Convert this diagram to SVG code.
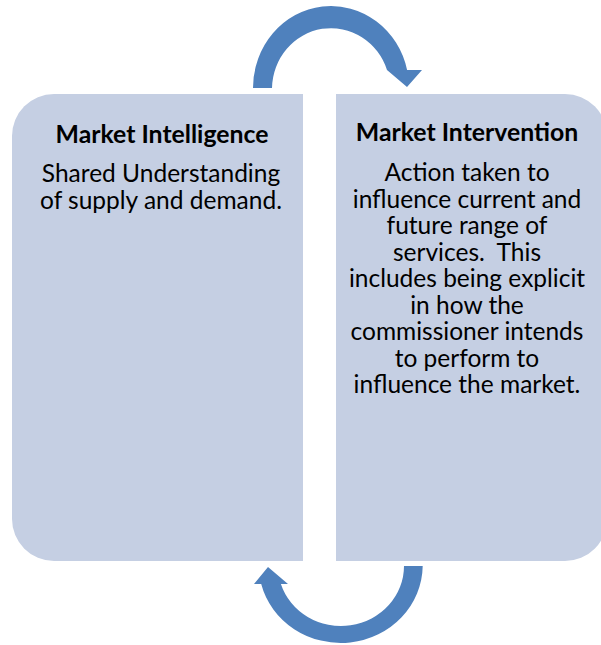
<svg xmlns="http://www.w3.org/2000/svg" width="601" height="645" viewBox="0 0 601 645">
  <style>
    .panel { fill: #C5CFE3; }
    .arrow { fill: #4F81BD; }
    text { font-family: Lato, "Liberation Sans", sans-serif; fill: #000; text-anchor: middle; }
    .title { font-size: 24.8px; font-weight: bold; }
    .body { font-size: 24.5px; }
  </style>
  <rect width="601" height="645" fill="#FFFFFF"/>
  <g id="market-intelligence">
    <path class="panel" d="M303,94 H54 A42,42 0 0 0 12,136 V519 A42,42 0 0 0 54,561 H303 Z"/>
    <text class="title" x="162" y="143">Market Intelligence</text>
    <text class="body" x="161" y="181.5">Shared Understanding</text>
    <text class="body" x="161" y="208.5">of supply and demand.</text>
  </g>
  <g id="market-intervention">
    <path class="panel" d="M336,94 H565 A42,42 0 0 1 607,136 V519 A42,42 0 0 1 565,561 H336 Z"/>
    <text class="title" x="467" y="141">Market Intervention</text>
    <text class="body" x="467" y="181">Action taken to</text>
    <text class="body" x="467" y="207.5">influence current and</text>
    <text class="body" x="467" y="234">future range of</text>
    <text class="body" x="467" y="260.5" xml:space="preserve">services.  This</text>
    <text class="body" x="467" y="287">includes being explicit</text>
    <text class="body" x="467" y="313.5">in how the</text>
    <text class="body" x="467" y="340">commissioner intends</text>
    <text class="body" x="467" y="366.5">to perform to</text>
    <text class="body" x="467" y="393">influence the market.</text>
  </g>
  <g id="connectors">
    <path id="arrow-top" class="arrow" d="M253,88 A78,82 0 0 1 407.1,70 L422,70 L407,87 L387,70 A59,61 0 0 0 272,88 Z"/>
    <path id="arrow-bottom" class="arrow" d="M422.7,566 A82,78 0 0 1 261.2,584 L254,584 L268,567 L288,584 L280.9,584 A63,60 0 0 0 404,566 Z"/>
  </g>
</svg>
